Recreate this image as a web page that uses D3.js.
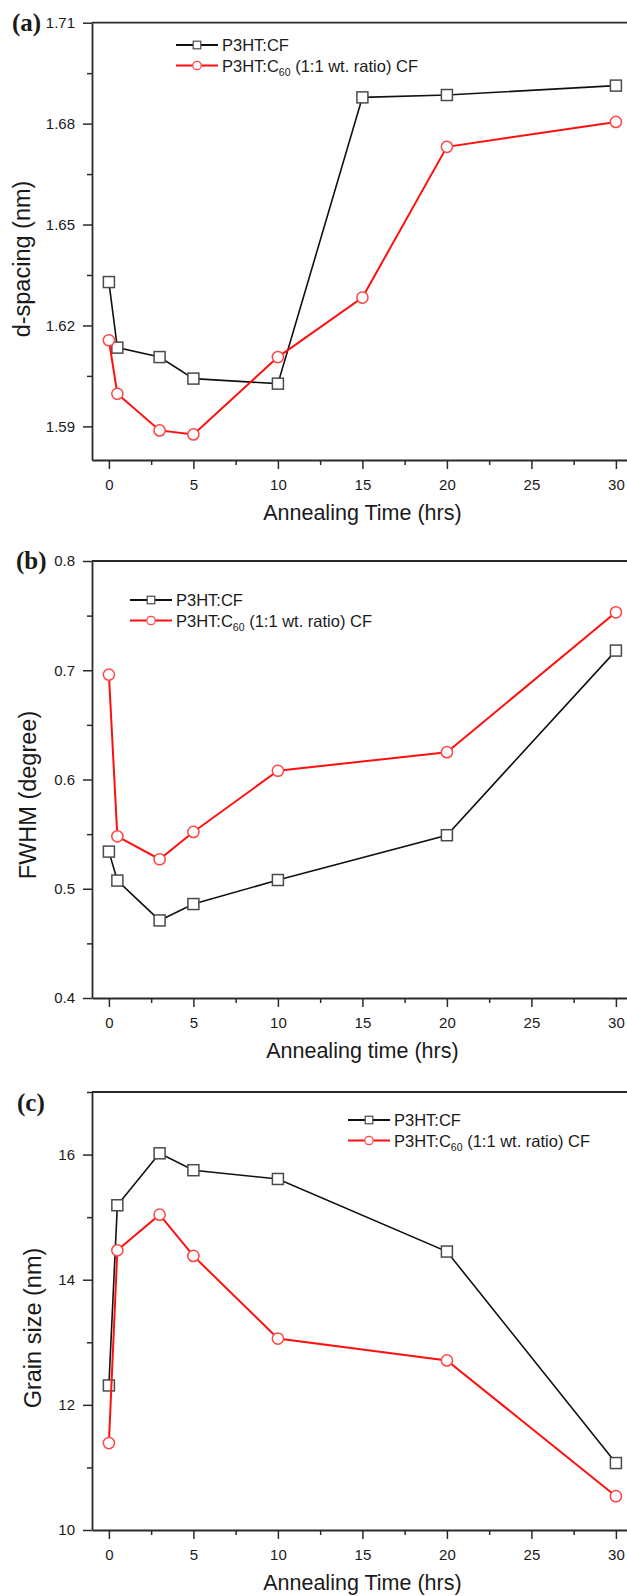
<!DOCTYPE html>
<html>
<head>
<meta charset="utf-8">
<script src="https://cdn.jsdelivr.net/npm/d3@7"></script>
<style>
  body { margin: 0; background: #fff; }
  svg { display: block; }
  .tick text { font-family: "Liberation Sans", Arial, sans-serif; font-size: 15px; fill: #1a1a1a; }
  .tick line, .domain { stroke: #2a2a2a; }
</style>
</head>
<body>
<div id="plot"></div>
<script>
// annealing times (hrs)
var timesA = [0, 0.5, 3, 5, 10, 15, 20, 30];
var timesBC = [0, 0.5, 3, 5, 10, 20, 30];

// (a) d-spacing (nm)
var dSpacingCF = [1.6329, 1.6134, 1.6106, 1.6042, 1.6027, 1.6878, 1.6885, 1.6913];
var dSpacingC60 = [1.6156, 1.5997, 1.5888, 1.5876, 1.6106, 1.6283, 1.6731, 1.6805];

// (b) FWHM (degree)
var fwhmCF = [0.534, 0.5075, 0.471, 0.486, 0.508, 0.549, 0.718];
var fwhmC60 = [0.696, 0.548, 0.527, 0.552, 0.608, 0.625, 0.753];

// (c) grain size (nm)
var grainCF = [12.31, 15.19, 16.02, 15.75, 15.61, 14.45, 11.07];
var grainC60 = [11.39, 14.47, 15.04, 14.38, 13.06, 12.71, 10.54];

// ticks
var xMajor = [0, 5, 10, 15, 20, 25, 30];
var xMinor = [2.5, 7.5, 12.5, 17.5, 22.5, 27.5];
var yMajorA = [1.59, 1.62, 1.65, 1.68, 1.71];
var yMinorA = [1.605, 1.635, 1.665, 1.695];
var yMajorB = [0.4, 0.5, 0.6, 0.7, 0.8];
var yMinorB = [0.45, 0.55, 0.65, 0.75];
var yMajorC = [10, 12, 14, 16];
var yMinorC = [11, 13, 15, 17];

var seriesNames = ["P3HT:CF", "P3HT:C60 (1:1 wt. ratio) CF"];

var svgWidth = 627;
var svgHeight = 1596;
var plotLeft = 92;
var plotRight = 632.8;

var panels = [
  { tag: "(a)", top: 22.7, bottom: 460, domain: [1.58, 1.71], major: yMajorA, minor: yMinorA, fmt: ".2f",
    times: timesA, cf: dSpacingCF, c60: dSpacingC60, yTitle: "d-spacing (nm)", xTitle: "Annealing Time (hrs)",
    tagPos: [12, 31], yTitlePos: [30, 259], legendPos: [176, 45] },
  { tag: "(b)", top: 561, bottom: 998, domain: [0.4, 0.8], major: yMajorB, minor: yMinorB, fmt: ".1f",
    times: timesBC, cf: fwhmCF, c60: fwhmC60, yTitle: "FWHM (degree)", xTitle: "Annealing time (hrs)",
    tagPos: [16, 569], yTitlePos: [36, 795], legendPos: [130, 600] },
  { tag: "(c)", top: 1092, bottom: 1530, domain: [10, 17], major: yMajorC, minor: yMinorC, fmt: "d",
    times: timesBC, cf: grainCF, c60: grainC60, yTitle: "Grain size (nm)", xTitle: "Annealing Time (hrs)",
    tagPos: [17, 1111], yTitlePos: [41, 1328], legendPos: [348, 1120] }
];

var svg = d3.select("#plot")
  .append("svg")
  .attr("width", svgWidth)
  .attr("height", svgHeight);

var x = d3.scaleLinear().domain([-1, 31]).range([plotLeft, plotRight]);

function drawPanel(p) {
  var g = svg.append("g");
  var y = d3.scaleLinear().domain(p.domain).range([p.bottom, p.top]);

  // minor ticks first
  g.append("g")
    .attr("transform", `translate(0, ${p.bottom})`)
    .call(d3.axisBottom(x).tickValues(xMinor).tickSize(5).tickSizeOuter(0).tickFormat(""))
    .call(a => a.select(".domain").remove());
  g.append("g")
    .attr("transform", `translate(${plotLeft}, 0)`)
    .call(d3.axisLeft(y).tickValues(p.minor).tickSize(5).tickSizeOuter(0).tickFormat(""))
    .call(a => a.select(".domain").remove());

  // major ticks + axis lines
  g.append("g")
    .attr("transform", `translate(0, ${p.bottom})`)
    .call(d3.axisBottom(x).tickValues(xMajor).tickSize(9).tickPadding(10).tickSizeOuter(0))
    .call(a => a.selectAll("line, path").attr("stroke-width", 1.8));
  g.append("g")
    .attr("transform", `translate(${plotLeft}, 0)`)
    .call(d3.axisLeft(y).tickValues(p.major).tickSize(9).tickPadding(8).tickSizeOuter(0)
      .tickFormat(d3.format(p.fmt)))
    .call(a => a.selectAll("line, path").attr("stroke-width", 1.8));

  // top frame
  g.append("line")
    .attr("x1", plotLeft).attr("x2", plotRight)
    .attr("y1", y(p.domain[1])).attr("y2", y(p.domain[1]))
    .attr("stroke", "#2a2a2a").attr("stroke-width", 1.8);

  g.selectAll(".tick line").attr("stroke-width", 1.5);

  // series
  var cfData = p.times.map((t, i) => ({ t: t, v: p.cf[i] }));
  var c60Data = p.times.map((t, i) => ({ t: t, v: p.c60[i] }));
  var line = d3.line().x(d => x(d.t)).y(d => y(d.v));

  g.append("path").datum(cfData)
    .attr("d", line).attr("fill", "none").attr("stroke", "#111").attr("stroke-width", 1.6);
  g.selectAll(".sq").data(cfData).enter()
    .append("rect")
    .attr("x", d => x(d.t) - 5.5).attr("y", d => y(d.v) - 5.5)
    .attr("width", 11).attr("height", 11)
    .attr("fill", "#fff").attr("stroke", "#4a4a4a").attr("stroke-width", 1.5);

  g.append("path").datum(c60Data)
    .attr("d", line).attr("fill", "none").attr("stroke", "#ff1010").attr("stroke-width", 2);
  g.selectAll(".ci").data(c60Data).enter()
    .append("circle")
    .attr("cx", d => x(d.t)).attr("cy", d => y(d.v)).attr("r", 5.6)
    .attr("fill", "#fff").attr("stroke", "#ff4545").attr("stroke-width", 1.5);

  // legend
  var lx = p.legendPos[0], ly = p.legendPos[1];
  g.append("line").attr("x1", lx).attr("x2", lx + 42).attr("y1", ly).attr("y2", ly)
    .attr("stroke", "#111").attr("stroke-width", 2);
  g.append("rect").attr("x", lx + 21 - 3.8).attr("y", ly - 3.8).attr("width", 7.6).attr("height", 7.6)
    .attr("fill", "#fff").attr("stroke", "#4a4a4a").attr("stroke-width", 1.2);
  g.append("line").attr("x1", lx).attr("x2", lx + 42).attr("y1", ly + 20.5).attr("y2", ly + 20.5)
    .attr("stroke", "#ff1010").attr("stroke-width", 2.2);
  g.append("circle").attr("cx", lx + 21).attr("cy", ly + 20.5).attr("r", 4.2)
    .attr("fill", "#fff").attr("stroke", "#ff4545").attr("stroke-width", 1.2);

  var legendFont = "'Liberation Sans', Arial, sans-serif";
  g.append("text").attr("x", lx + 46).attr("y", ly + 6)
    .attr("font-family", legendFont).attr("font-size", 16.5).attr("fill", "#1a1a1a")
    .text(seriesNames[0]);
  var t2 = g.append("text").attr("x", lx + 46).attr("y", ly + 26.5)
    .attr("font-family", legendFont).attr("font-size", 16.5).attr("fill", "#1a1a1a");
  t2.append("tspan").text("P3HT:C");
  t2.append("tspan").attr("font-size", 10.5).attr("dy", 4).text("60");
  t2.append("tspan").attr("dy", -4).text(" (1:1 wt. ratio) CF");

  // axis titles
  g.append("text")
    .attr("transform", `translate(${p.yTitlePos[0]}, ${p.yTitlePos[1]}) rotate(-90)`)
    .attr("text-anchor", "middle")
    .attr("font-family", legendFont).attr("font-size", 23.5).attr("fill", "#1a1a1a")
    .text(p.yTitle);
  g.append("text")
    .attr("x", (plotLeft + plotRight) / 2).attr("y", p.bottom + 60)
    .attr("text-anchor", "middle")
    .attr("font-family", legendFont).attr("font-size", 21.5).attr("fill", "#1a1a1a")
    .text(p.xTitle);

  // panel tag
  g.append("text")
    .attr("x", p.tagPos[0]).attr("y", p.tagPos[1])
    .attr("font-family", "'Liberation Serif', 'Times New Roman', serif")
    .attr("font-weight", "bold").attr("font-size", 25).attr("fill", "#1a1a1a")
    .text(p.tag);
}

panels.forEach(drawPanel);
</script>
</body>
</html>
